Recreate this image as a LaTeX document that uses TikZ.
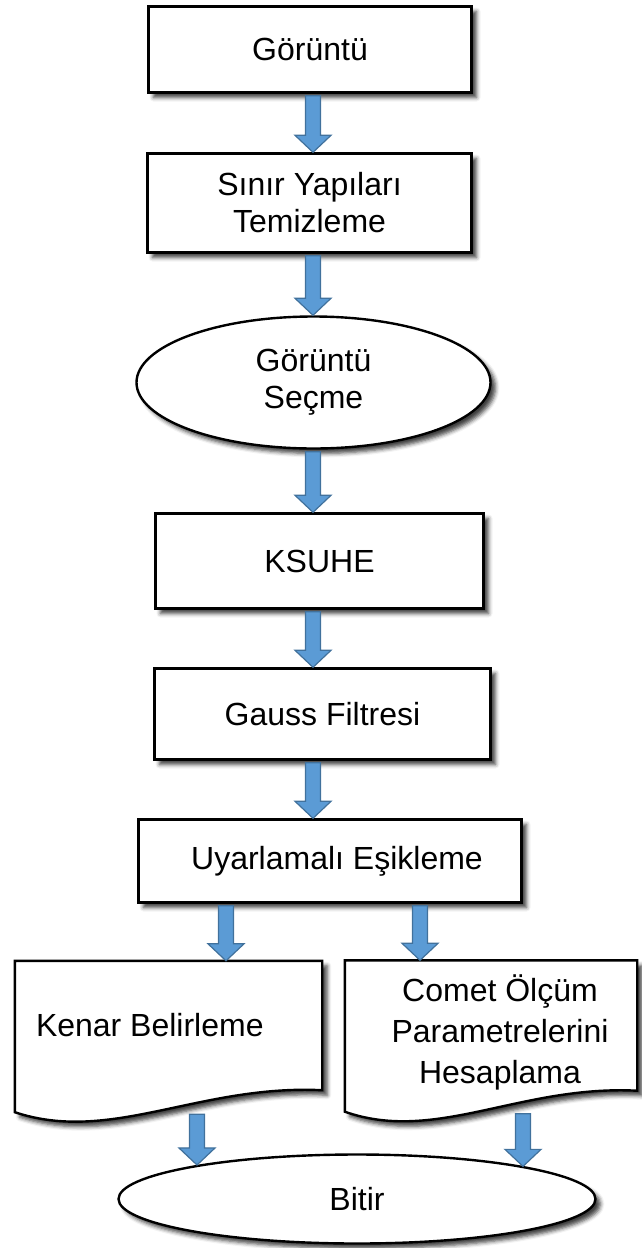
\documentclass[tikz,border=0pt]{standalone}
\usepackage{fontspec}
\setmainfont{Liberation Sans}
\usepackage{tikz}
\usetikzlibrary{calc}
\usetikzlibrary{shapes.geometric}
\usetikzlibrary{shadows.blur}
\definecolor{okmavi}{RGB}{91,155,213}
\definecolor{okkenar}{RGB}{65,113,156}
\tikzset{golge/.style={blur shadow={shadow xshift=5pt, shadow yshift=-5pt, shadow blur radius=4pt, shadow opacity=75}}}
\tikzset{kutu/.style={draw, line width=2.4pt, fill=white, align=center, golge}}
\tikzset{oval/.style={kutu, ellipse}}
\tikzset{belge/.style={draw, line width=2.4pt, fill=white, golge}}
\tikzset{blok/.style={fill=okmavi, draw=okkenar, line width=1.2pt}}
\newcommand{\blokok}[2]{%
  \filldraw[blok] let \p1=#1, \p2=#2 in
    (\x1-7.5pt,\y1-2pt) -- (\x1-7.5pt,\y2+17pt) -- (\x1-18pt,\y2+17pt) -- (\x1,\y2)
    -- (\x1+18pt,\y2+17pt) -- (\x1+7.5pt,\y2+17pt) -- (\x1+7.5pt,\y1-2pt) -- cycle;}

\begin{document}
\begin{tikzpicture}[x=1pt,y=-1pt]
  \useasboundingbox (0,0) rectangle (641,1248);
  \begin{scope}[font=\fontsize{32}{37}\selectfont]
    \coordinate (orta) at (313,0);
    \coordinate (sol) at (226,0);
    \coordinate (sag) at (420,0);
    \coordinate (altsol) at (197,0);
    \coordinate (altsag) at (523,0);
    \node[kutu, minimum width=323, minimum height=86] (goruntu) at (310,49.5) {Görüntü};
    \node[kutu, minimum width=324, minimum height=99] (sinir) at (309.5,203) {Sınır Yapıları\\Temizleme};
    \node[oval, minimum width=354, minimum height=132] (secme) at (313.5,382.5) {Görüntü\\Seçme};
    \node[kutu, minimum width=328, minimum height=95] (ksuhe) at (319.5,561) {KSUHE};
    \node[kutu, minimum width=336, minimum height=91] (gauss) at (322.5,714) {Gauss Filtresi};
    \node[kutu, minimum width=383, minimum height=83] (esik) at (330,861) {\hspace*{14pt}Uyarlamalı Eşikleme};
    \node[minimum width=307, minimum height=151] (kenar) at (168.5,1036.5) {};
    \node[minimum width=292, minimum height=151] (comet) at (491,1036) {};
    \filldraw[belge] (kenar.north west) -- (kenar.north east) -- ($(kenar.south east)+(0,-22)$)
      .. controls +(-123,-6) and +(96,32) .. (kenar.south west) -- cycle;
    \filldraw[belge] (comet.north west) -- (comet.north east) -- ($(comet.south east)+(0,-21)$)
      .. controls +(-117,-6) and +(91,32) .. (comet.south west) -- cycle;
    \node[anchor=west, inner sep=0] (kenaryazi) at ($(kenar.west)+(21,-11.5)$) {Kenar Belirleme};
    \node[align=center, font=\fontsize{32}{41}\selectfont] (cometyazi) at (500,1032) {Comet Ölçüm\\Parametrelerini\\Hesaplama};
    \node[oval, minimum width=477, minimum height=89] (bitir) at (357,1199) {Bitir};
    \blokok{(goruntu.south -| orta)}{(sinir.north -| orta)}
    \blokok{(sinir.south -| orta)}{(secme.north)}
    \blokok{(secme.south -| orta)}{(ksuhe.north -| orta)}
    \blokok{(ksuhe.south -| orta)}{(gauss.north -| orta)}
    \blokok{(gauss.south -| orta)}{(esik.north -| orta)}
    \blokok{(esik.south -| sol)}{(kenar.north -| sol)}
    \blokok{(esik.south -| sag)}{(comet.north -| sag)}
    \blokok{(kenar.south -| altsol)}{(bitir.168)}
    \blokok{(comet.south -| altsag)}{(bitir.11.5)}
  \end{scope}
\end{tikzpicture}
\end{document}
